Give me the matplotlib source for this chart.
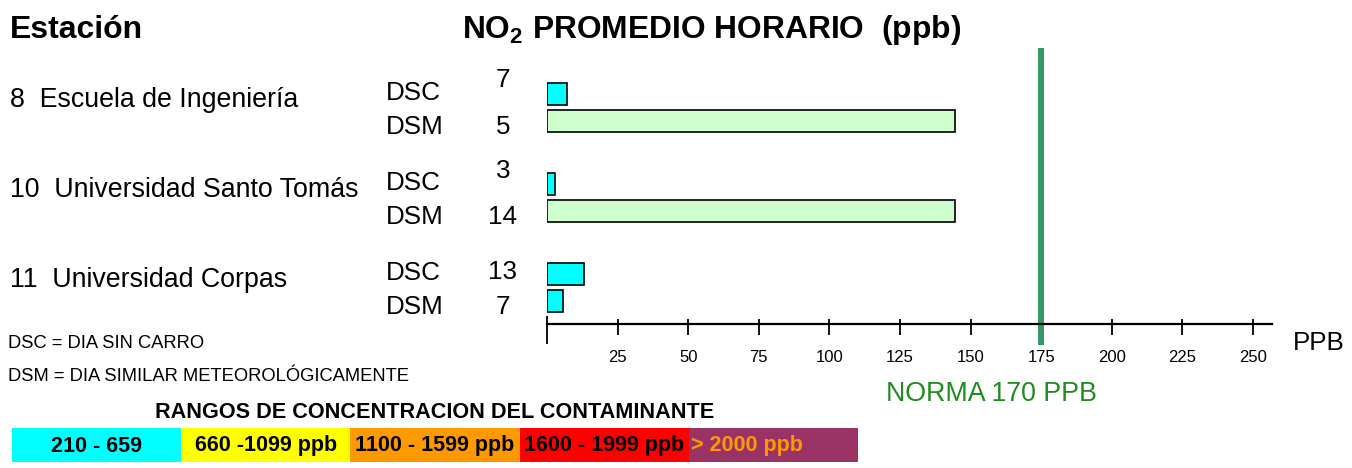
import matplotlib
matplotlib.use("Agg")
import matplotlib.pyplot as plt
from matplotlib.patches import Rectangle

plt.rcParams['font.family'] = ['Liberation Sans', 'DejaVu Sans']
plt.rcParams['mathtext.fontset'] = 'custom'
plt.rcParams['mathtext.rm'] = 'Liberation Sans'
plt.rcParams['mathtext.bf'] = 'Liberation Sans:bold'

# ---------------- data ----------------
stations = ["8  Escuela de Ingeniería", "10  Universidad Santo Tomás", "11  Universidad Corpas"]
series = ["DSC", "DSM"]
dsc_bar = [7, 3, 13]              # bar lengths as drawn (ppb)
dsm_bar = [144.5, 144.5, 5.5]
dsc_label = ["7", "3", "13"]       # printed values
dsm_label = ["5", "14", "7"]
norma_value = 175
norma_text = "NORMA 170 PPB"
xticks = [25, 50, 75, 100, 125, 150, 175, 200, 225, 250]
range_labels = ["210 - 659", "660 -1099 ppb", "1100 - 1599 ppb", "1600 - 1999 ppb", "> 2000 ppb"]
range_colors = ["#00FFFF", "#FFFF00", "#FF9900", "#FF0000", "#993366"]
range_text_colors = ["black", "black", "black", "black", "#FF9900"]

W, H = 1352, 468
fig = plt.figure(figsize=(W / 100, H / 100), dpi=100)


def fx(px):
    return px / W


def fy(py):
    return 1 - py / H


def T(x, y, s, **kw):
    kw.setdefault('va', 'baseline')
    fig.text(fx(x), fy(y), s, **kw)


# ---------------- main axes ----------------
ax_left, ax_right, ax_top, ax_bottom = 547, 1272, 40, 324
ax = fig.add_axes([fx(ax_left), fy(ax_bottom), (ax_right - ax_left) / W, (ax_bottom - ax_top) / H])
px_per_unit = 706 / 250.0
ax.set_xlim(0, (ax_right - ax_left) / px_per_unit)
ax.set_ylim(ax_bottom, ax_top)
for sp in ['top', 'right', 'left']:
    ax.spines[sp].set_visible(False)
ax.spines['bottom'].set_linewidth(1.6)
ax.set_yticks([])
ax.set_xticks([])
ax.patch.set_visible(False)

bar_h = 22
first_y, group_gap, series_gap = 94, 90, 27
colors_dsc = "#00FFFF"
for g in range(len(stations)):
    y_dsc = first_y + g * group_gap
    y_dsm = y_dsc + series_gap
    ax.barh(y_dsc, dsc_bar[g], height=bar_h, color=colors_dsc, edgecolor='black', linewidth=1.2)
    dsm_col = "#CCFFCC" if dsm_bar[g] > 100 else "#00FFFF"
    ax.barh(y_dsm, dsm_bar[g], height=bar_h, color=dsm_col, edgecolor='black', linewidth=1.2)

# ticks
ax.vlines(0, ax_bottom - 8, ax_bottom + 20, color='black', linewidth=1.3, clip_on=False)
ax.vlines(xticks, ax_bottom - 5, ax_bottom + 11, color='black', linewidth=1.3, clip_on=False)
for t in xticks:
    ax.text(t, 362, str(t), ha='center', va='baseline', fontsize=12, clip_on=False)

# norma line
ax.plot([norma_value, norma_value], [345, 48], color='#339966', linewidth=4.3, clip_on=False,
        solid_capstyle='butt')

# ---------------- texts ----------------
T(10, 38, "Estación", fontsize=23, fontweight='bold')
T(462, 38, r"NO$_\mathbf{2}$ PROMEDIO HORARIO  (ppb)", fontsize=22.9, fontweight='bold')

for g, name in enumerate(stations):
    base = 107 + g * group_gap
    T(10, base, name, fontsize=19.3)
    T(386, 100 + g * group_gap, series[0], fontsize=18.7)
    T(386, 134 + g * group_gap, series[1], fontsize=18.7)

dsc_num_base = [87, 178, 279]
for g in range(len(stations)):
    T(503, dsc_num_base[g], dsc_label[g], fontsize=18.7, ha='center')
    T(503, 134 + g * group_gap, dsm_label[g], fontsize=18.7, ha='center')

T(1293, 350, "PPB", fontsize=18.7)
T(886, 401, norma_text, fontsize=19.3, color='#1E8C1E')

T(8, 348, "DSC = DIA SIN CARRO", fontsize=13.2)
T(8, 381, "DSM = DIA SIMILAR METEOROLÓGICAMENTE", fontsize=13.2)

T(435, 418, "RANGOS DE CONCENTRACION DEL CONTAMINANTE", fontsize=15.6, fontweight='bold',
  ha='center')

seg_left, seg_w, seg_top, seg_h = 12, 169.2, 428, 34
for i, (lab, col, tcol) in enumerate(zip(range_labels, range_colors, range_text_colors)):
    x0 = seg_left + i * seg_w
    fig.patches.append(Rectangle((fx(x0), fy(seg_top + seg_h)), seg_w / W, seg_h / H,
                                 transform=fig.transFigure, facecolor=col, edgecolor='none'))
    if i == len(range_labels) - 1:
        T(x0 + 2, 446, lab, fontsize=15.5, fontweight='bold', color=tcol, ha='left', va='center')
    else:
        T(x0 + seg_w / 2, 446, lab, fontsize=15.5, fontweight='bold', color=tcol,
          ha='center', va='center')

fig.savefig("out.png", dpi=100)
